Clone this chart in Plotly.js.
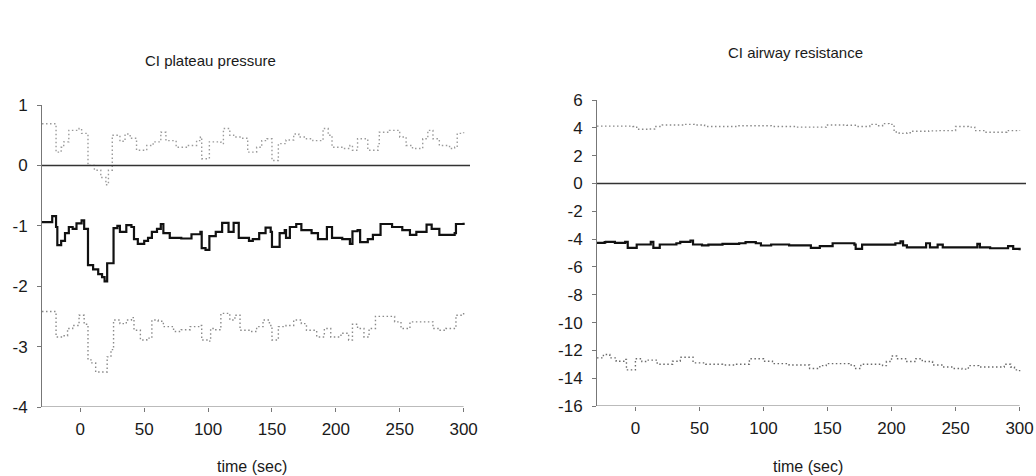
<!DOCTYPE html>
<html>
<head>
<meta charset="utf-8">
<script src="https://cdn.plot.ly/plotly-3.0.1.min.js"></script>
<style>html,body{margin:0;padding:0;background:#fff}#chart{width:1036px;height:476px}</style>
</head>
<body>
<div id="chart"></div>
<script>
// ---- Left panel: CI plateau pressure ----
const ppMeanT = [-30,-22,-19,-18,-15,-12,-9,-6,-3,1,3,6,10,14,17,19,21,26,29,31,36,40,42,45,50,53,56,60,63,65,70,79,87,94,95,98,101,106,111,116,120,124,132,135,140,145,149,150,156,160,161,164,169,173,181,186,193,197,205,211,213,217,219,225,229,235,244,252,258,263,271,275,281,288,293,294,300];
const ppMean  = [-0.94,-0.84,-1.02,-1.32,-1.25,-1.12,-1.02,-1.05,-0.96,-0.91,-1.05,-1.65,-1.72,-1.80,-1.85,-1.92,-1.62,-1.04,-1.00,-1.10,-0.99,-1.02,-1.22,-1.30,-1.25,-1.20,-1.10,-1.05,-0.97,-1.12,-1.20,-1.21,-1.14,-1.10,-1.37,-1.40,-1.17,-1.10,-0.95,-1.10,-0.95,-1.20,-1.25,-1.22,-1.12,-1.03,-1.10,-1.35,-1.12,-1.07,-1.20,-1.02,-0.97,-1.07,-1.12,-1.22,-1.02,-1.20,-1.22,-1.30,-1.09,-1.07,-1.27,-1.22,-1.15,-0.97,-1.02,-1.07,-1.15,-1.10,-0.98,-1.05,-1.15,-1.15,-1.12,-0.97,-0.95];

const ppUpperT = [-30,-19,-15,-13,-9,-1,1,6,11,16,20,22,25,31,35,39,44,52,57,63,67,75,83,91,94,95,101,110,112,117,120,125,131,138,142,146,150,155,161,167,171,177,182,190,194,197,206,211,213,217,225,233,234,242,250,255,260,268,272,276,281,289,293,295,300];
const ppUpper  = [0.69,0.22,0.30,0.39,0.58,0.61,0.53,0.00,-0.08,-0.20,-0.32,-0.08,0.50,0.40,0.52,0.45,0.25,0.33,0.39,0.55,0.41,0.30,0.33,0.41,0.47,0.11,0.39,0.36,0.61,0.50,0.47,0.45,0.22,0.30,0.41,0.44,0.08,0.36,0.42,0.52,0.47,0.44,0.41,0.61,0.50,0.30,0.28,0.33,0.25,0.44,0.25,0.36,0.55,0.58,0.47,0.33,0.28,0.44,0.58,0.44,0.33,0.28,0.30,0.53,0.55];

const ppLowerT = [-30,-19,-14,-10,-6,-1,3,6,9,12,21,24,26,31,36,40,42,47,52,56,61,65,73,79,86,94,95,100,102,106,110,117,121,125,133,138,143,148,150,155,161,167,173,177,185,191,196,204,210,213,217,222,226,231,239,246,251,258,268,276,281,286,294,300];
const ppLower  = [-2.42,-2.84,-2.82,-2.70,-2.65,-2.48,-2.63,-3.22,-3.27,-3.42,-3.17,-3.05,-2.56,-2.62,-2.56,-2.52,-2.73,-2.89,-2.86,-2.56,-2.58,-2.67,-2.75,-2.72,-2.67,-2.65,-2.89,-2.91,-2.70,-2.72,-2.45,-2.56,-2.48,-2.73,-2.75,-2.67,-2.56,-2.65,-2.89,-2.67,-2.65,-2.56,-2.62,-2.73,-2.84,-2.70,-2.84,-2.78,-2.89,-2.63,-2.70,-2.84,-2.70,-2.50,-2.50,-2.59,-2.70,-2.59,-2.59,-2.70,-2.73,-2.70,-2.48,-2.42];

// ---- Right panel: CI airway resistance ----
const arMeanT = [-30,-24,-23,-16,-8,-6,1,12,14,19,32,35,43,45,52,57,68,81,86,94,98,106,120,137,144,154,171,172,177,203,207,209,212,227,230,236,240,264,267,269,277,291,295,300];
const arMean  = [-4.27,-4.22,-4.20,-4.27,-4.20,-4.63,-4.39,-4.20,-4.63,-4.39,-4.30,-4.20,-4.10,-4.39,-4.45,-4.40,-4.35,-4.30,-4.22,-4.30,-4.46,-4.39,-4.45,-4.63,-4.50,-4.30,-4.40,-4.70,-4.40,-4.30,-4.17,-4.45,-4.60,-4.30,-4.60,-4.40,-4.60,-4.60,-4.35,-4.60,-4.66,-4.50,-4.70,-4.80];

const arUpperT = [-30,-2,1,10,15,21,38,46,54,80,106,126,149,165,173,183,188,193,198,202,206,212,216,229,237,250,260,265,273,286,290,300];
const arUpper  = [4.12,4.10,3.90,3.92,4.10,4.20,4.25,4.20,4.10,4.15,4.10,4.05,4.20,4.18,4.10,4.25,4.15,4.30,4.25,3.70,3.60,3.65,3.75,3.78,3.80,4.10,4.05,3.80,3.68,3.68,3.80,3.85];

const arLowerT = [-30,-25,-20,-15,-8,-7,0,5,10,17,29,35,45,55,68,79,89,100,107,120,136,144,149,167,171,176,193,196,200,204,211,219,224,232,240,248,255,260,268,281,288,293,296,300];
const arLower  = [-12.54,-12.30,-12.54,-12.78,-12.65,-13.40,-12.60,-12.80,-12.70,-13.00,-12.78,-12.50,-12.90,-13.00,-13.05,-13.00,-12.60,-12.78,-12.95,-13.05,-13.30,-13.10,-12.95,-13.05,-13.30,-13.00,-13.10,-12.80,-12.40,-12.60,-12.80,-12.60,-12.80,-13.05,-13.20,-13.30,-13.35,-13.10,-13.20,-13.20,-13.00,-13.20,-13.40,-13.50];

const xTicks = [0,50,100,150,200,250,300];
const ppTicks = [-4,-3,-2,-1,0,1];
const arTicks = [-16,-14,-12,-10,-8,-6,-4,-2,0,2,4,6];

const FONT = 'Liberation Sans, Arial, sans-serif';
const TXT = '#1a1a1a';

function dotted(x, y, xa, ya, color) {
  return {x, y, xaxis: xa, yaxis: ya, type: 'scatter', mode: 'lines',
    line: {shape: 'hv', color, width: 1.4, dash: '1.5px,2.5px'}, hoverinfo: 'skip'};
}
function solid(x, y, xa, ya) {
  return {x, y, xaxis: xa, yaxis: ya, type: 'scatter', mode: 'lines',
    line: {shape: 'hv', color: '#111', width: 2.2}, hoverinfo: 'skip'};
}

const traces = [
  dotted(ppUpperT, ppUpper, 'x', 'y', '#9a9a9a'),
  dotted(ppLowerT, ppLower, 'x', 'y', '#8a8a8a'),
  solid(ppMeanT, ppMean, 'x', 'y'),
  dotted(arUpperT, arUpper, 'x2', 'y2', '#8a8a8a'),
  dotted(arLowerT, arLower, 'x2', 'y2', '#6a6a6a'),
  solid(arMeanT, arMean, 'x2', 'y2')
];

function xaxis(domain, anchor) {
  return {domain, anchor, range: [-30, 305], tickvals: xTicks, ticktext: xTicks.map(String),
    ticks: 'outside', ticklen: 4, tickcolor: '#777', ticklabelstandoff: 3,
    showline: false, showgrid: false, zeroline: false,
    tickfont: {family: FONT, size: 17, color: TXT}, fixedrange: true};
}
function yaxis(domain, anchor, range, tickvals) {
  return {domain, anchor, range, tickvals, ticktext: tickvals.map(String),
    ticks: 'outside', ticklen: 4, tickcolor: '#777', ticklabelstandoff: 6,
    showline: true, linecolor: '#777', linewidth: 1, showgrid: false, zeroline: false,
    tickfont: {family: FONT, size: 17, color: TXT}, fixedrange: true};
}

const layout = {
  width: 1036, height: 476,
  margin: {l: 0, r: 0, t: 0, b: 0},
  paper_bgcolor: '#fff', plot_bgcolor: '#fff',
  showlegend: false,
  xaxis: xaxis([42/1036, 470/1036], 'y'),
  yaxis: yaxis([1 - 407/476, 1 - 105/476], 'x', [-4, 1], ppTicks),
  xaxis2: xaxis([597/1036, 1026/1036], 'y2'),
  yaxis2: yaxis([1 - 406/476, 1 - 100/476], 'x2', [-16, 6], arTicks),
  shapes: [
    {type: 'line', xref: 'x', yref: 'y', x0: -30, x1: 300, y0: -4, y1: -4, line: {color: '#777', width: 1}},
    {type: 'line', xref: 'x2', yref: 'y2', x0: -30, x1: 300, y0: -16, y1: -16, line: {color: '#777', width: 1}},
    {type: 'line', xref: 'x', yref: 'y', x0: -30, x1: 305, y0: 0, y1: 0, line: {color: '#333', width: 1.5}},
    {type: 'line', xref: 'x2', yref: 'y2', x0: -30, x1: 305, y0: 0, y1: 0, line: {color: '#333', width: 1.5}}
  ],
  annotations: [
    {text: 'CI plateau pressure', xref: 'paper', yref: 'paper', x: 210/1036, y: 1 - 60/476,
      showarrow: false, xanchor: 'center', yanchor: 'middle', font: {family: FONT, size: 15, color: TXT}},
    {text: 'CI airway resistance', xref: 'paper', yref: 'paper', x: 795/1036, y: 1 - 52/476,
      showarrow: false, xanchor: 'center', yanchor: 'middle', font: {family: FONT, size: 15, color: TXT}},
    {text: 'time (sec)', xref: 'paper', yref: 'paper', x: 252/1036, y: 1 - 466/476,
      showarrow: false, xanchor: 'center', yanchor: 'middle', font: {family: FONT, size: 16, color: TXT}},
    {text: 'time (sec)', xref: 'paper', yref: 'paper', x: 808/1036, y: 1 - 466/476,
      showarrow: false, xanchor: 'center', yanchor: 'middle', font: {family: FONT, size: 16, color: TXT}}
  ]
};

Plotly.newPlot('chart', traces, layout, {staticPlot: true, displayModeBar: false});
</script>
</body>
</html>
